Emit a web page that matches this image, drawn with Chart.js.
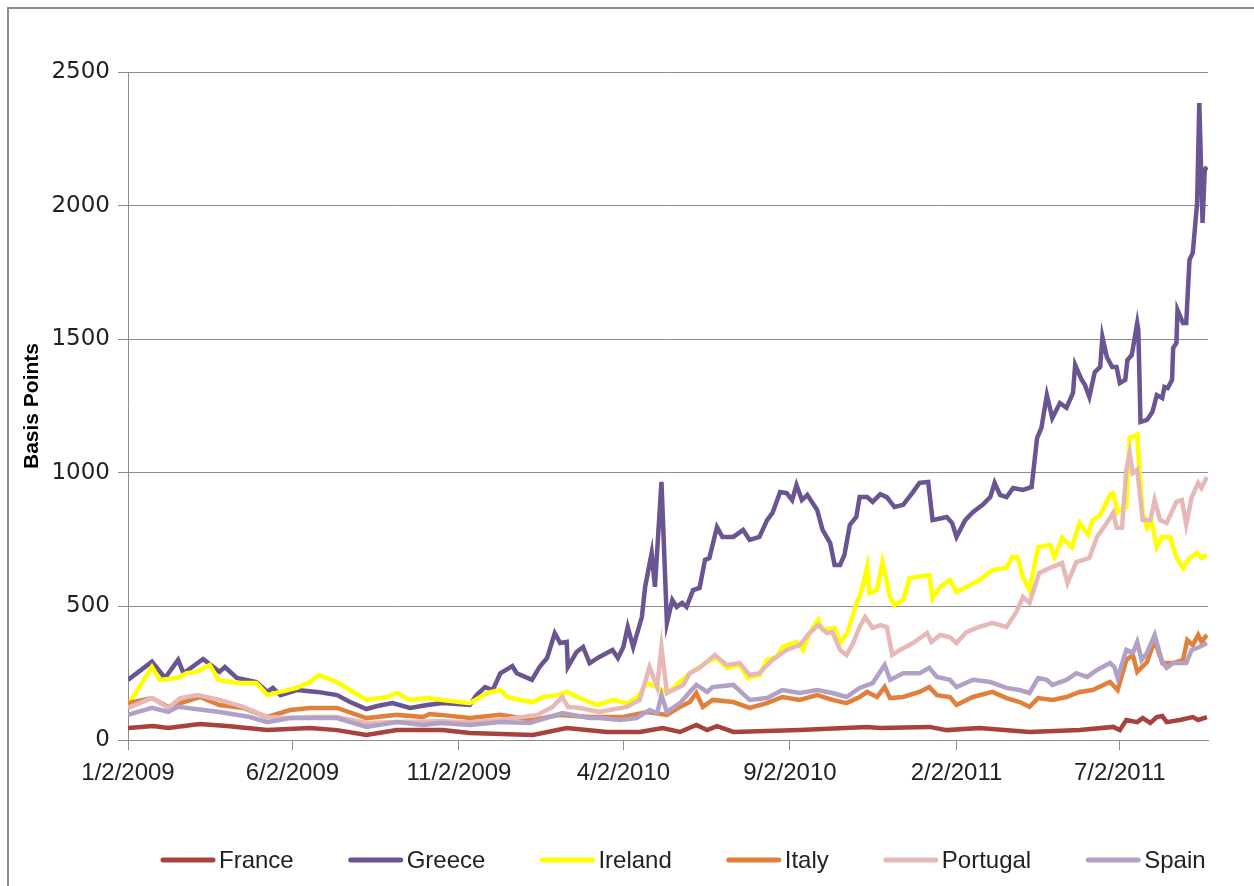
<!DOCTYPE html>
<html>
<head>
<meta charset="utf-8">
<title>Sovereign spreads</title>
<script src="https://cdn.jsdelivr.net/npm/chart.js@4.4.0/dist/chart.umd.min.js"></script>
<style>
    html, body { margin: 0; padding: 0; background: #fff; overflow: hidden; }
    #frame { position: absolute; left: 7px; top: 7px; width: 1400px; height: 1000px; border: 2px solid #8c8c8c; }
    #wrap { position: absolute; left: 0; top: 0; width: 1254px; height: 886px; }
</style>
</head>
<body>
<div id="frame"></div>
<div id="wrap"><canvas id="spreads" width="1254" height="886"></canvas></div>
<script>
// x values are days since 1/2/2009
const tickDays = [0, 151, 304, 455, 608, 761, 911];
const tickLabels = ['1/2/2009', '6/2/2009', '11/2/2009', '4/2/2010', '9/2/2010', '2/2/2011', '7/2/2011'];

const franceDays = [0,23,37,66,91,128,167,192,219,247,289,314,372,403,440,470,491,507,522,532,541,556,617,679,691,736,752,782,828,874,905,911,917,927,932,939,945,950,954,966,978,983,991];
const franceBp = [45,52,45,60,52,37,45,37,19,37,37,26,19,45,30,30,45,30,56,37,52,30,37,49,45,49,37,45,30,37,49,37,75,67,82,64,86,90,67,75,86,75,86];

const greeceDays = [0,22,34,46,51,69,84,89,100,118,128,133,140,155,174,192,204,219,229,243,259,275,289,314,320,328,335,342,353,357,371,378,385,392,397,403,404,412,418,424,433,445,450,455,459,464,472,475,481,484,490,495,500,504,509,513,519,525,530,534,541,546,556,565,571,580,587,592,599,605,610,614,619,624,633,638,645,649,654,658,663,669,672,679,684,691,697,704,712,721,727,735,739,748,752,757,761,769,776,785,792,796,801,807,813,822,830,835,839,844,849,856,862,868,870,876,879,883,888,893,895,899,904,908,911,916,918,922,927,928,930,936,941,945,950,952,955,959,960,963,964,969,972,975,978,982,984,987,989,991];
const greeceBp = [225,293,232,300,250,303,255,273,232,217,180,195,168,187,180,168,142,116,127,138,120,131,138,131,168,198,187,250,277,250,225,273,307,400,363,367,273,329,348,288,311,337,307,348,423,348,460,573,700,573,966,438,524,498,513,498,561,569,674,681,797,760,760,786,749,760,823,850,928,924,898,954,898,917,861,786,737,655,655,692,805,835,909,909,891,920,909,872,880,928,962,966,823,831,835,812,760,823,853,880,909,962,917,909,943,936,947,1130,1168,1291,1205,1261,1243,1299,1404,1348,1329,1284,1377,1396,1508,1434,1396,1396,1336,1348,1422,1441,1561,1535,1190,1198,1228,1291,1280,1321,1317,1348,1467,1486,1609,1561,1561,1797,1823,2010,2384,1935,2134,2145];

const irelandDays = [0,22,29,45,54,63,75,83,100,118,128,140,155,167,175,192,204,219,238,247,259,275,289,314,330,342,348,360,372,381,394,403,415,431,445,458,467,477,486,495,504,516,525,532,541,550,562,569,580,587,596,601,614,620,626,634,638,649,654,661,668,674,679,681,688,693,700,704,712,718,724,736,739,746,755,761,770,782,794,807,812,817,822,828,836,847,851,858,867,874,882,886,893,902,905,909,914,917,920,927,929,932,936,940,945,950,957,963,969,975,982,986,991];
const irelandBp = [131,273,225,232,250,255,281,225,213,213,168,180,195,217,243,217,187,150,161,176,150,157,150,138,176,187,161,150,142,161,168,180,157,131,150,138,157,213,198,176,206,250,273,292,307,270,281,232,243,300,311,348,367,337,400,449,412,419,363,404,498,561,648,550,561,666,535,505,524,606,610,617,531,573,599,554,573,599,636,644,685,685,610,561,722,730,685,756,722,812,767,823,842,917,924,853,868,872,1130,1142,1011,850,794,823,722,760,760,685,644,681,700,681,692];

const italyDays = [0,22,37,66,84,106,128,149,167,192,219,247,271,277,287,314,342,372,397,424,455,477,495,507,516,522,528,537,556,571,587,601,617,633,647,660,672,679,688,695,700,712,727,736,743,755,761,776,794,807,819,828,836,849,862,874,886,902,909,917,923,927,936,943,950,960,969,973,978,983,986,991];
const italyBp = [138,157,124,161,131,120,86,112,120,120,82,94,86,97,94,82,94,75,94,86,86,105,94,124,142,176,124,150,142,120,138,161,150,168,150,138,161,180,161,198,157,161,180,198,168,161,131,161,180,157,142,124,157,150,161,180,187,217,187,300,318,255,292,374,288,288,300,374,355,393,367,393];

const portugalDays = [0,22,37,48,64,84,106,128,149,167,192,219,247,287,314,342,376,390,399,404,415,433,458,470,479,486,490,495,510,516,525,539,550,562,571,580,592,605,617,626,634,642,647,654,660,666,672,677,684,691,697,702,709,721,734,738,746,755,761,770,782,794,807,816,822,828,837,847,858,863,871,883,890,899,905,908,913,917,920,923,927,932,939,943,948,954,963,968,972,977,983,986,991];
const portugalBp = [120,157,120,157,168,150,124,86,82,86,86,64,67,70,66,75,94,124,161,124,120,105,124,150,273,198,348,176,206,250,270,318,281,288,243,250,300,337,355,400,430,400,404,337,318,363,423,460,419,430,423,318,337,363,400,367,393,385,363,404,423,438,423,479,535,513,625,644,662,587,666,681,760,812,850,794,794,1011,1074,999,1011,823,823,898,823,812,891,898,805,909,962,943,984];

const spainDays = [0,22,37,46,84,112,128,149,192,219,247,271,287,314,342,369,399,424,433,452,467,479,486,490,495,507,516,522,532,537,556,571,587,601,617,633,647,660,672,684,695,700,712,727,736,743,755,761,776,792,807,819,828,836,844,849,862,871,881,890,902,906,909,917,923,927,931,936,943,950,954,960,972,977,984,991];
const spainBp = [94,120,105,124,105,86,67,82,82,49,67,56,64,56,67,64,101,82,82,75,82,112,101,168,105,138,180,206,180,198,206,150,157,187,176,187,176,161,195,213,281,225,250,250,270,236,225,198,225,217,195,187,176,232,225,206,225,250,236,262,288,273,232,337,326,367,300,326,393,292,270,288,288,337,348,363];

const countries = ['France', 'Greece', 'Ireland', 'Italy', 'Portugal', 'Spain'];
const colors = ['#a7423f', '#6a5492', '#ffff00', '#e0803a', '#e6b9b8', '#b2a1c7'];
const allDays = [franceDays, greeceDays, irelandDays, italyDays, portugalDays, spainDays];
const allBp = [franceBp, greeceBp, irelandBp, italyBp, portugalBp, spainBp];

const axisGray = '#8c8c8c';
const textColor = '#222';

// legend drawn under the plot, line sample + name
const bottomLegend = {
    id: 'bottomLegend',
    afterDraw(chart) {
        const ctx = chart.ctx;
        ctx.save();
        ctx.font = "24px 'Liberation Sans', sans-serif";
        ctx.textBaseline = 'middle';
        let x = 161;
        const y = 860;
        chart.data.datasets.forEach(ds => {
            ctx.strokeStyle = ds.borderColor;
            ctx.lineWidth = 5;
            ctx.lineCap = 'round';
            ctx.beginPath();
            ctx.moveTo(x + 2, y);
            ctx.lineTo(x + 52, y);
            ctx.stroke();
            ctx.fillStyle = textColor;
            ctx.fillText(ds.label, x + 58, y + 1);
            x += 58 + ctx.measureText(ds.label).width + 55;
        });
        ctx.restore();
    }
};

const ctx = document.getElementById('spreads').getContext('2d');
new Chart(ctx, {
    type: 'line',
    data: {
        datasets: countries.map((name, i) => ({
            label: name,
            data: allDays[i].map((d, j) => ({ x: d, y: allBp[i][j] })),
            borderColor: colors[i],
            backgroundColor: colors[i],
            borderWidth: 4.5,
            pointRadius: 0,
            tension: 0,
            fill: false,
            order: countries.length - i   // later series on top, like Excel
        }))
    },
    options: {
        responsive: false,
        animation: false,
        layout: { padding: { left: 0, right: 46, top: 72, bottom: 0 } },
        plugins: {
            legend: { display: false },
            tooltip: { enabled: false }
        },
        scales: {
            x: {
                type: 'linear',
                min: 0,
                max: 992,
                afterBuildTicks: scale => { scale.ticks = tickDays.map(v => ({ value: v })); },
                afterFit: scale => { scale.height = 146; },
                ticks: {
                    autoSkip: false,
                    maxRotation: 0,
                    padding: 9,
                    color: textColor,
                    font: { family: "'Liberation Sans Narrow', 'Liberation Sans', sans-serif", size: 24, lineHeight: 1.2 },
                    callback: v => tickLabels[tickDays.indexOf(v)]
                },
                grid: { drawOnChartArea: false, color: axisGray, tickLength: 10 },
                border: { color: axisGray }
            },
            y: {
                min: 0,
                max: 2500,
                afterFit: scale => { scale.width = 128; },
                ticks: {
                    stepSize: 500,
                    padding: 8,
                    color: textColor,
                    font: { family: "'DejaVu Sans', sans-serif", size: 23 },
                    callback: v => String(v)
                },
                grid: { color: axisGray, lineWidth: 1, tickLength: 10 },
                border: { color: axisGray },
                title: {
                    display: true,
                    text: 'Basis Points',
                    color: '#000',
                    padding: { top: 20, bottom: 0 },
                    font: { family: "'Liberation Sans', sans-serif", weight: 'bold', size: 21 }
                }
            }
        }
    },
    plugins: [bottomLegend]
});
</script>
</body>
</html>
